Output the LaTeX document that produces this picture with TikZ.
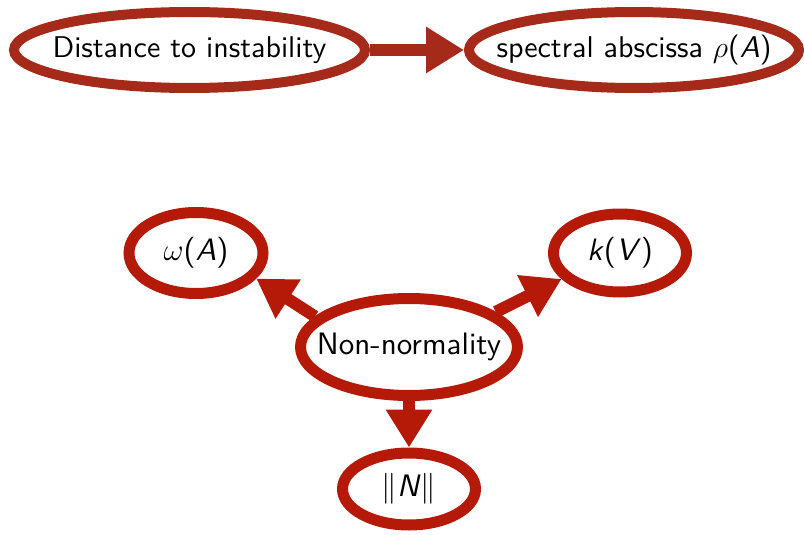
\RequirePackage{fix-cm}
\documentclass[tikz,border=0pt]{standalone}
\usetikzlibrary{shapes.geometric,arrows.meta}
{\fontencoding{TU}\fontfamily{lmss}\selectfont}
\DeclareFontShape{TU}{lmss}{m}{n}{<->\UnicodeFontFile{lmsans10-regular}{\UnicodeFontTeXLigatures}}{}
\DeclareFontShape{TU}{lmss}{m}{sl}{<->\UnicodeFontFile{lmsans10-oblique}{\UnicodeFontTeXLigatures}}{}
\DeclareFontShape{TU}{lmss}{m}{it}{<->ssub * lmss/m/sl}{}
\definecolor{topred}{RGB}{166,42,26}
\definecolor{botred}{RGB}{181,25,8}
\newcommand{\sfi}[1]{\textsf{\textit{#1}}}
\newcommand{\topfont}{\sffamily\fontsize{30}{36}\selectfont}
\newcommand{\botfont}{\sffamily\fontsize{31}{37}\selectfont}
\tikzset{
  ell/.style={ellipse, draw=#1, inner xsep=-30pt, inner ysep=-4pt, text=black},
  topell/.style={ell=topred, line width=10pt, font=\topfont},
  botell/.style={ell=botred, line width=11pt, font=\botfont},
  conn/.style={draw=#1, line width=12pt, -{Triangle[length=38pt,width=44pt]}}
}
\begin{document}
\begin{tikzpicture}[x=1pt,y=-1pt]
\useasboundingbox (0,0) rectangle (804,535);
\node[topell, minimum width=351pt, minimum height=76pt] (dist) at (189.5,50) {Distance to instability};
\node[topell, minimum width=330pt, minimum height=76pt] (spec) at (634,50) {spectral abscissa $\rho$(\sfi{A})};
\draw[conn=topred] (dist) -- (spec);

\node[botell, minimum width=134pt, minimum height=81pt] (omega) at (196,253) {$\omega$(\sfi{A})};
\node[botell, minimum width=133pt, minimum height=78pt] (kv) at (620,253) {\sfi{k}(\sfi{V})};
\node[botell, minimum width=217pt, minimum height=97pt] (nn) at (409,347) {Non-normality};
\node[botell, minimum width=133pt, minimum height=72pt] (normN) at (409,489) {$\|$\sfi{N}$\|$};
\draw[conn=botred] (nn.162) -- (omega.-23);
\draw[conn=botred] (nn.22) -- (kv.204);
\draw[conn=botred] (nn.south) -- (normN.north);
\end{tikzpicture}
\end{document}
